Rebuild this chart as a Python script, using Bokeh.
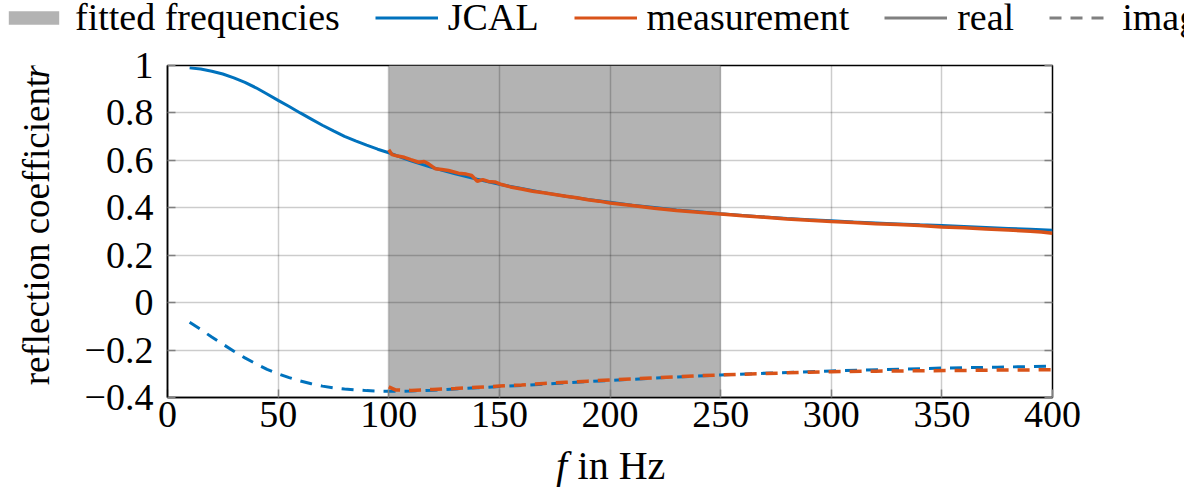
from bokeh.plotting import figure
from bokeh.layouts import column, row
from bokeh.core.properties import value
from bokeh.models import (Range1d, FixedTicker, LinearAxis, CustomJSTickFormatter,
                          Legend, LegendItem, ColumnDataSource)
from bokeh.embed import file_html
from bokeh.resources import INLINE

# ---------------- data ----------------
fit_range = [100, 250]

jcal_real_f = [10, 15, 20, 25, 30, 35, 40, 45, 50, 55, 60, 65, 70, 75, 80, 85, 90, 95, 100,
               110, 120, 130, 140, 150, 160, 170, 180, 190, 200,
               210, 220, 230, 240, 250, 260, 270, 280, 290, 300, 310, 320, 330, 340, 350, 360, 370, 380, 390, 400]
jcal_real = [0.990, 0.985, 0.976, 0.964, 0.948, 0.929, 0.906, 0.880, 0.853, 0.827, 0.800, 0.774, 0.748, 0.724,
             0.701, 0.682, 0.664, 0.647, 0.632,
             0.598, 0.569, 0.543, 0.520, 0.499, 0.481, 0.464, 0.449, 0.435, 0.423,
             0.411, 0.401, 0.391, 0.383, 0.375, 0.368, 0.361, 0.355, 0.350, 0.345, 0.340, 0.336, 0.332, 0.328,
             0.325, 0.321, 0.317, 0.313, 0.309, 0.305]

jcal_imag_f = [10, 15, 20, 25, 30, 35, 40, 45, 50, 55, 60, 65, 70, 75, 80, 85, 90, 95, 100,
               110, 120, 130, 140, 150, 160, 175, 200, 225, 250, 275, 300, 325, 350, 375, 400]
jcal_imag = [-0.083, -0.113, -0.145, -0.175, -0.205, -0.233, -0.258, -0.281, -0.300, -0.316, -0.330, -0.342,
             -0.352, -0.359, -0.364, -0.368, -0.371, -0.373, -0.374,
             -0.373, -0.369, -0.364, -0.359, -0.354, -0.349, -0.341, -0.328, -0.316, -0.305, -0.296, -0.288,
             -0.282, -0.276, -0.272, -0.268]

meas_real_f = [100, 101.5, 104, 107, 110, 113.5, 116, 118, 121, 124, 127, 131.5, 135, 137.5, 140, 142.5, 145,
               148, 151, 155, 160, 165, 170, 175, 180, 185, 190, 195, 200, 210, 220, 230, 240, 250, 260, 270,
               280, 290, 300, 310, 320, 330, 340, 350, 360, 370, 380, 390, 395, 400]
meas_real = [0.645, 0.624, 0.618, 0.613, 0.603, 0.592, 0.595, 0.585, 0.565, 0.561, 0.557, 0.546, 0.542, 0.536,
             0.512, 0.519, 0.511, 0.509, 0.498, 0.488, 0.479, 0.470, 0.463, 0.456, 0.449, 0.442, 0.434, 0.428,
             0.420, 0.410, 0.398, 0.389, 0.381, 0.374, 0.366, 0.360, 0.353, 0.347, 0.342, 0.338, 0.333, 0.329,
             0.325, 0.319, 0.316, 0.311, 0.306, 0.301, 0.298, 0.293]

meas_imag_f = [100, 103, 110, 120, 130, 140, 150, 160, 170, 180, 190, 200, 210, 220, 230, 240, 250, 260, 270,
               280, 290, 300, 320, 340, 360, 380, 400]
meas_imag = [-0.355, -0.368, -0.370, -0.366, -0.362, -0.357, -0.352, -0.347, -0.341, -0.336, -0.331, -0.326,
             -0.322, -0.317, -0.313, -0.308, -0.305, -0.302, -0.299, -0.296, -0.293, -0.291, -0.289, -0.287,
             -0.286, -0.284, -0.283]

x_ticks = [0, 50, 100, 150, 200, 250, 300, 350, 400]
y_ticks = [-0.4, -0.2, 0, 0.2, 0.4, 0.6, 0.8, 1]
x_lim = [0, 400]
y_lim = [-0.4, 1]

legend_labels = ["fitted frequencies", "JCAL", "measurement", "real", "imag"]
x_title = ["f", "in Hz"]
y_title = ["reflection coefficient", "r"]

# ---------------- style ----------------
BLUE = "#0072BD"
ORANGE = "#D95319"
SHADE = "#b3b3b3"
LEGRAY = "#808080"
FONT = "Liberation Serif"
FS = "38px"
XTFS = "40px"
YTFS = "37px"
DASH = "12 9"
NAN = float("nan")

TOTAL_W = 1184
LEG_H = 50
YLAB_W = 60
MAIN_W = TOTAL_W - YLAB_W
MAIN_H = 397
XLAB_H = 40


def bare(width, height, xr, yr):
    f = figure(width=width, height=height, output_backend="svg", toolbar_location=None,
               x_range=xr, y_range=yr, x_axis_type=None, y_axis_type=None,
               min_border=0, min_border_left=0, min_border_right=0, min_border_top=0, min_border_bottom=0)
    f.outline_line_color = None
    f.background_fill_color = "white"
    f.border_fill_color = "white"
    f.grid.visible = False
    return f


# ---------------- main plot ----------------
p = figure(width=MAIN_W, height=MAIN_H, output_backend="svg", toolbar_location=None,
           x_range=Range1d(*x_lim), y_range=Range1d(*y_lim),
           min_border_left=107, min_border_right=132, min_border_top=15, min_border_bottom=50)
p.background_fill_color = "white"
p.border_fill_color = "white"
p.outline_line_color = "black"
p.outline_line_width = 1.5

p.quad(left=[fit_range[0]], right=[fit_range[1]], bottom=[y_lim[0]], top=[y_lim[1]],
       fill_color=SHADE, line_color=None, level="image")

p.line(jcal_real_f, jcal_real, line_color=BLUE, line_width=3)
p.line(jcal_imag_f, jcal_imag, line_color=BLUE, line_width=3, line_dash=DASH)
p.line(meas_real_f, meas_real, line_color=ORANGE, line_width=3.5)
p.line(meas_imag_f, meas_imag, line_color=ORANGE, line_width=3.5, line_dash=DASH)

xt = FixedTicker(ticks=x_ticks)
yt = FixedTicker(ticks=y_ticks)
yfmt = CustomJSTickFormatter(code="""
    let s;
    if (Math.abs(tick) < 1e-9) s = '0';
    else if (Math.abs(tick - 1) < 1e-9) s = '1';
    else s = tick.toFixed(1);
    return s.replace('-', '\u2212');
""")

for ax in p.xaxis:
    ax.ticker = xt
for ax in p.yaxis:
    ax.ticker = yt
    ax.formatter = yfmt

for ax in list(p.xaxis) + list(p.yaxis):
    ax.axis_line_color = "black"
    ax.axis_line_width = 1.5
    ax.major_tick_in = 8
    ax.major_tick_out = 0
    ax.major_tick_line_color = "#808080"
    ax.major_tick_line_width = 1.5
    ax.minor_tick_line_color = None
    ax.major_label_text_font = FONT
    ax.major_label_text_font_size = FS
    ax.major_label_text_color = "black"
p.xaxis.major_label_standoff = 4
p.yaxis.major_label_standoff = 14

blank = CustomJSTickFormatter(code="return '';")
ax_r = LinearAxis(ticker=yt, formatter=blank, axis_line_color=None, major_tick_in=8, major_tick_out=0,
                  major_tick_line_color="#808080", major_tick_line_width=1.5, minor_tick_line_color=None,
                  major_label_standoff=0)
p.add_layout(ax_r, "right")

p.xgrid.ticker = xt
p.ygrid.ticker = yt
for g in (p.xgrid, p.ygrid):
    g.grid_line_color = "black"
    g.grid_line_alpha = 0.2
    g.grid_line_width = 1.5

# ---------------- legend strip ----------------
lg = bare(TOTAL_W, LEG_H, Range1d(0, 1), Range1d(0, 1))
e = ColumnDataSource(data=dict(l=[NAN], r=[NAN], b=[NAN], t=[NAN], x=[NAN], y=[NAN]))
r_shade = lg.quad(left="l", right="r", bottom="b", top="t", source=e, fill_color=SHADE, line_color=None)
r_jcal = lg.line("x", "y", source=e, line_color=BLUE, line_width=3)
r_meas = lg.line("x", "y", source=e, line_color=ORANGE, line_width=3)
r_real = lg.line("x", "y", source=e, line_color=LEGRAY, line_width=3)
r_imag = lg.line("x", "y", source=e, line_color=LEGRAY, line_width=3, line_dash=DASH)

legend = Legend(items=[
    LegendItem(label=legend_labels[0], renderers=[r_shade]),
    LegendItem(label=legend_labels[1], renderers=[r_jcal]),
    LegendItem(label=legend_labels[2], renderers=[r_meas]),
    LegendItem(label=legend_labels[3], renderers=[r_real]),
    LegendItem(label=legend_labels[4], renderers=[r_imag]),
], orientation="horizontal", location=(2, 11))
legend.label_text_font = FONT
legend.label_text_font_size = FS
legend.label_text_color = "black"
legend.label_standoff = 10
legend.spacing = 35
legend.glyph_width = 63
legend.glyph_height = 17
legend.padding = 0
legend.margin = 0
legend.border_line_color = None
legend.background_fill_alpha = 0
legend.label_height = 20
lg.add_layout(legend, "center")

# ---------------- y title strip (page pixel coords, y down) ----------------
yl = bare(YLAB_W, MAIN_H, Range1d(0, YLAB_W), Range1d(LEG_H + MAIN_H, LEG_H))
ysrc = ColumnDataSource(data=dict(x=[36, 36], y=[248, 57], t=y_title,
                                  st=["normal", "italic"]))
yl.text(x="x", y="y", text="t", source=ysrc, text_font=value(FONT), text_font_size=YTFS,
        text_font_style="st", text_align="center", text_baseline="middle", angle=1.5708,
        text_color="black")

# ---------------- x title strip (page pixel coords, y down) ----------------
top_x = LEG_H + MAIN_H
xl = bare(TOTAL_W, XLAB_H, Range1d(0, TOTAL_W), Range1d(top_x + XLAB_H, top_x))
xsrc = ColumnDataSource(data=dict(x=[561, 621], y=[465, 465], t=x_title,
                                  st=["italic", "normal"]))
xl.text(x="x", y="y", text="t", source=xsrc, text_font=value(FONT), text_font_size=XTFS,
        text_font_style="st", text_align="center", text_baseline="middle", text_color="black")

layout = column(lg, row(yl, p, spacing=0), xl, spacing=0)
open("out.html", "w").write(file_html(layout, INLINE))
